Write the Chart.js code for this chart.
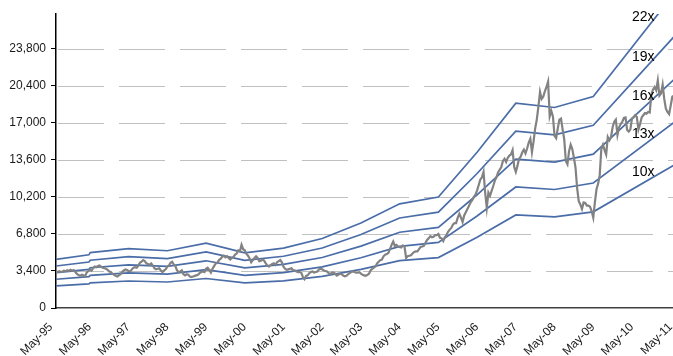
<!DOCTYPE html>
<html>
<head>
<meta charset="utf-8">
<script src="https://cdn.jsdelivr.net/npm/chart.js@4/dist/chart.umd.min.js"></script>
<style>
  html, body { margin: 0; padding: 0; background: #fff; overflow: hidden; }
  #wrap { width: 682px; height: 356px; }
</style>
</head>
<body>
<div id="wrap"><canvas id="peBandChart" width="682" height="356"></canvas></div>
<script>
// x positions are months counted from May-95
const tickLabels = ['May-95', 'May-96', 'May-97', 'May-98', 'May-99', 'May-00', 'May-01', 'May-02',
    'May-03', 'May-04', 'May-05', 'May-06', 'May-07', 'May-08', 'May-09', 'May-10', 'May-11'];
const yTicks = [0, 3400, 6800, 10200, 13600, 17000, 20400, 23800];

// index level, one point every half month starting May-95
const price = [
    3300,
    // 1995 May-Dec
    3310, 3380, 3300, 3350, 3420, 3380, 3460, 3400, 3500, 3420, 3480, 3300, 3120, 3020, 2960, 3050,
    // 1996
    3000, 2900, 3250, 3400, 3500, 3420, 3650, 3800, 3750, 3850, 3900, 3780, 3700, 3650, 3600, 3500, 3350, 3300, 3150, 3050, 2950, 2900, 3000, 3100,
    // 1997
    3300, 3450, 3550, 3500, 3400, 3350, 3550, 3700, 3750, 3700, 3900, 4150, 4250, 4400, 4300, 4100, 4050, 3950, 4100, 3900, 3650, 3550, 3600, 3650,
    // 1998
    3450, 3300, 3450, 3550, 3800, 3900, 4150, 4250, 4000, 3850, 3450, 3300, 3350, 3450, 3100, 3000, 3100, 3050, 2900, 2850, 2900, 2950, 3000, 3050,
    // 1999
    3200, 3300, 3350, 3300, 3600, 3700, 3500, 3250, 3600, 3850, 4100, 4150, 4400, 4500, 4700, 4800, 4650, 4750, 4600, 4450, 4600, 4700, 4900, 5000,
    // 2000
    5300, 5200, 5800, 5400, 5300, 5000, 4800, 4550, 4200, 4400, 4600, 4750, 4600, 4300, 4350, 4450, 4350, 4100, 3900, 3800, 3950, 4050, 4100, 3950,
    // 2001
    4200, 4300, 4400, 4200, 3800, 3600, 3500, 3550, 3600, 3650, 3450, 3450, 3350, 3300, 3300, 3250, 2850, 2650, 2950, 3000, 3200, 3300, 3350, 3250,
    // 2002
    3300, 3350, 3550, 3600, 3550, 3450, 3400, 3350, 3200, 3100, 3250, 3250, 3150, 2980, 3050, 3150, 3100, 2980, 2900, 2950, 3100, 3200, 3300, 3350,
    // 2003
    3300, 3250, 3250, 3280, 3150, 3050, 3000, 2950, 3050, 3150, 3450, 3600, 3700, 3800, 4100, 4250, 4400, 4450, 4750, 4900, 4950, 5050, 5400, 5800,
    // 2004
    6100, 5700, 5800, 5650, 5600, 5550, 5750, 5650, 4600, 4750, 4800, 4850, 5000, 5150, 5200, 5200, 5400, 5600, 5650, 5700, 6000, 6250, 6400, 6600,
    // 2005
    6500, 6550, 6700, 6700, 6800, 6450, 6400, 6150, 6500, 6700, 7000, 7200, 7350, 7650, 7800, 7800, 8300, 8650, 8300, 7900, 8500, 8800, 9100, 9400,
    // 2006
    9700, 9900, 10200, 10400, 10800, 11300, 11800, 12000, 12500, 10600, 9200, 10600, 10300, 10750, 11200, 11700, 12000, 12450, 12700, 12950, 13500, 13700, 13400, 13800,
    // 2007
    14000, 14100, 14500, 12950, 12500, 13050, 13700, 13900, 14300, 14550, 14200, 14650, 15200, 15550, 14300, 15300, 16500, 17300, 18500, 19850, 19200, 19400, 19900, 20300,
    // 2008
    20800, 17600, 18100, 17600, 15800, 15600, 16500, 17300, 17400, 16400, 15500, 13500, 13200, 14400, 15000, 14600, 13800, 12900, 11000, 9800, 9500, 9100, 9700, 9650,
    // 2009
    9400, 9400, 9300, 8900, 8300, 9700, 10900, 11400, 12200, 14600, 15000, 14500, 14100, 15700, 15400, 15700, 16600, 17100, 17300, 15900, 16600, 16900, 17100, 17450,
    // 2010
    17500, 16350, 16200, 16400, 17400, 17500, 17700, 17550, 16400, 16900, 17500, 17700, 17900, 17850, 18000, 17950, 19600, 20050, 20300, 20000, 20900, 19500, 19700, 20500,
    // 2011
    19200, 18300, 18000, 17800, 18600, 19400, 19500, 19100, 18400, 18500, 18800, 18900
];

// earnings per share at each band vertex (fiscal year ends), months from May-95
const epsMonths = [0, 10.2, 10.6, 22.5, 34.5, 46.5, 58.5, 70.5, 82.5, 94.5, 106.5, 118.5, 130.5, 142.5, 154.5, 166.5, 194];
const eps = [203, 222, 231, 248, 239, 271, 230, 250, 290, 355, 435, 463, 650, 855, 837, 883, 1354];
const multiples = [10, 13, 16, 19, 22];
const bandNames = ['10x', '13x', '16x', '19x', '22x'];

const FONT = "'Liberation Sans Narrow', 'Arial Narrow', 'Liberation Sans', Arial, sans-serif";
const BLUE = '#4a6da8';

// where the multiple labels sit (month, value)
const bandLabelPos = [[178.5, 12444], [178.5, 15980], [178.5, 19469], [178.5, 23051], [178.5, 26679]];

// dashed horizontal gridlines, drawn under the lines
const dashedGrid = {
    id: 'dashedGrid',
    beforeDatasetsDraw(chart) {
        const { ctx, chartArea, scales } = chart;
        ctx.save();
        ctx.strokeStyle = '#c0c0c0';
        ctx.lineWidth = 1;
        ctx.setLineDash([46, 15]);
        yTicks.slice(1).forEach(v => {
            const y = Math.round(scales.y.getPixelForValue(v)) + 0.5;
            ctx.beginPath();
            ctx.moveTo(chartArea.left + 2, y);
            ctx.lineTo(chartArea.right, y);
            ctx.stroke();
        });
        ctx.restore();
    }
};

const bandLabels = {
    id: 'bandLabels',
    afterDatasetsDraw(chart) {
        const { ctx, scales } = chart;
        ctx.save();
        ctx.font = '14px ' + FONT;
        ctx.fillStyle = '#000';
        ctx.textAlign = 'left';
        ctx.textBaseline = 'middle';
        bandNames.forEach((name, i) => {
            const [mx, my] = bandLabelPos[i];
            ctx.fillText(name, scales.x.getPixelForValue(mx), scales.y.getPixelForValue(my));
        });
        ctx.restore();
    }
};

const datasets = [{
    label: 'Index',
    data: price.map((v, i) => ({ x: i * 0.5, y: v })),
    borderColor: '#828282',
    borderWidth: 2.2,
    pointRadius: 0,
    order: 0
}];
multiples.forEach((m, k) => {
    datasets.push({
        label: bandNames[k],
        data: eps.map((e, i) => ({ x: epsMonths[i], y: e * m })),
        borderColor: BLUE,
        borderWidth: 1.7,
        pointRadius: 0,
        order: 1
    });
});

Chart.defaults.font.family = FONT;
Chart.defaults.font.size = 12;
Chart.defaults.color = '#1a1a1a';

new Chart(document.getElementById('peBandChart').getContext('2d'), {
    type: 'line',
    data: { datasets },
    options: {
        responsive: false,
        animation: false,
        layout: { padding: { top: 14, left: 0, right: 0, bottom: 0 } },
        plugins: { legend: { display: false }, tooltip: { enabled: false } },
        scales: {
            x: {
                type: 'linear',
                min: 0,
                max: 194,
                afterBuildTicks: (scale) => { scale.ticks = tickLabels.map((_, i) => ({ value: i * 12 })); },
                afterFit: (scale) => {
                    scale.height = 48;
                    scale.paddingLeft = 0;
                    scale.paddingRight = 0;
                },
                ticks: {
                    autoSkip: false,
                    minRotation: 45,
                    maxRotation: 45,
                    padding: 12,
                    labelOffset: -5,
                    callback: (v) => tickLabels[Math.round(v / 12)]
                },
                grid: { drawOnChartArea: false, drawTicks: false },
                border: { display: true, color: '#404040', width: 1.5 }
            },
            y: {
                min: 0,
                max: 27000,
                afterBuildTicks: (scale) => { scale.ticks = yTicks.map(v => ({ value: v })); },
                afterFit: (scale) => { scale.width = 56; },
                ticks: {
                    padding: 5,
                    callback: (v) => v.toLocaleString('en-US')
                },
                grid: { drawOnChartArea: false, tickLength: 5, tickColor: '#000', tickWidth: 1 },
                border: { display: true, color: '#000', width: 1.5 }
            }
        }
    },
    plugins: [dashedGrid, bandLabels]
});
</script>
</body>
</html>
